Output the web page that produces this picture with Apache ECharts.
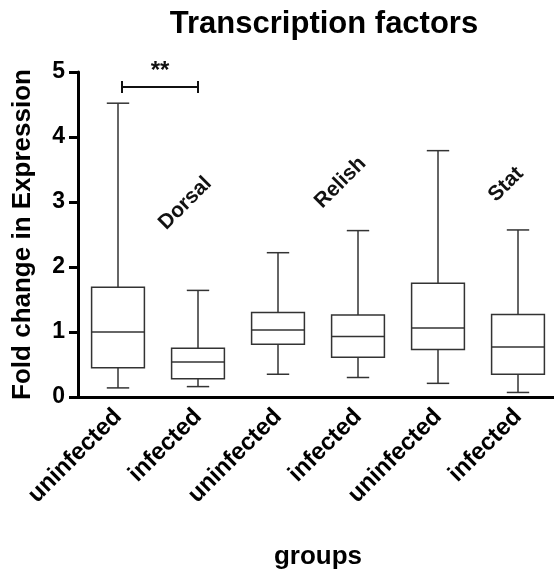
<!DOCTYPE html>
<html>
<head>
<meta charset="utf-8">
<script src="https://cdn.jsdelivr.net/npm/echarts@6/dist/echarts.min.js"></script>
<style>
  html, body { margin: 0; padding: 0; background: #fff; }
  #chart { width: 554px; height: 571px; }
</style>
</head>
<body>
<div id="chart"></div>
<script>
// groups on the x axis
const categories = ['uninfected', 'infected', 'uninfected', 'infected', 'uninfected', 'infected']
// whisker low, Q1, median, Q3, whisker high
const whiskerLow = [0.14, 0.16, 0.35, 0.30, 0.21, 0.07]
const q1 = [0.45, 0.28, 0.81, 0.61, 0.73, 0.35]
const median = [1.00, 0.54, 1.03, 0.93, 1.06, 0.77]
const q3 = [1.69, 0.75, 1.30, 1.26, 1.75, 1.27]
const whiskerHigh = [4.52, 1.64, 2.22, 2.56, 3.79, 2.57]

// gene labels, placed in axis units (x = category index)
const geneNames = ['Dorsal', 'Relish', 'Stat']
const geneX = [0.84, 2.78, 4.85]
const geneY = [2.98, 3.30, 3.27]

// significance bracket between group 0 and 1
const sigFrom = 0.05
const sigTo = 1.0
const sigValue = 4.77
const sigText = '**'

const FONT = '"Liberation Sans", Arial, sans-serif'
const boxData = categories.map((c, i) => [i, whiskerLow[i], q1[i], median[i], q3[i], whiskerHigh[i]])

const chart = echarts.init(document.getElementById('chart'))

function renderBox(params, api) {
  const i = api.value(0)
  const lo = api.coord([i, api.value(1)])
  const a = api.coord([i, api.value(2)])
  const m = api.coord([i, api.value(3)])
  const b = api.coord([i, api.value(4)])
  const hi = api.coord([i, api.value(5)])
  const cx = lo[0]
  const band = api.size([1, 0])[0]
  const hb = band * 0.33
  const hc = band * 0.14
  const st = { stroke: '#333', lineWidth: 1.5, fill: 'none' }
  return {
    type: 'group',
    children: [
      { type: 'rect', shape: { x: cx - hb, y: b[1], width: hb * 2, height: a[1] - b[1] }, style: { stroke: '#333', lineWidth: 1.5, fill: '#fff' } },
      { type: 'line', shape: { x1: cx - hb, y1: m[1], x2: cx + hb, y2: m[1] }, style: st },
      { type: 'line', shape: { x1: cx, y1: b[1], x2: cx, y2: hi[1] }, style: st },
      { type: 'line', shape: { x1: cx, y1: a[1], x2: cx, y2: lo[1] }, style: st },
      { type: 'line', shape: { x1: cx - hc, y1: hi[1], x2: cx + hc, y2: hi[1] }, style: st },
      { type: 'line', shape: { x1: cx - hc, y1: lo[1], x2: cx + hc, y2: lo[1] }, style: st }
    ]
  }
}

function renderGene(params, api) {
  const p = api.coord([api.value(0), api.value(1)])
  return {
    type: 'text',
    x: p[0],
    y: p[1],
    rotation: Math.PI / 4,
    style: {
      text: geneNames[params.dataIndex],
      font: 'bold 21px ' + FONT,
      fill: '#111',
      align: 'center',
      verticalAlign: 'middle'
    }
  }
}

function renderSig(params, api) {
  const l = api.coord([api.value(0), api.value(2)])
  const r = api.coord([api.value(1), api.value(2)])
  const st = { stroke: '#111', lineWidth: 2 }
  return {
    type: 'group',
    children: [
      { type: 'line', shape: { x1: l[0], y1: l[1], x2: r[0], y2: r[1] }, style: st },
      { type: 'line', shape: { x1: l[0], y1: l[1] - 6, x2: l[0], y2: l[1] + 6 }, style: st },
      { type: 'line', shape: { x1: r[0], y1: r[1] - 6, x2: r[0], y2: r[1] + 6 }, style: st },
      {
        type: 'text', x: (l[0] + r[0]) / 2, y: l[1] - 16,
        style: { text: sigText, font: 'bold 24px ' + FONT, fill: '#111', align: 'center', verticalAlign: 'middle' }
      }
    ]
  }
}

chart.setOption({
  animation: false,
  backgroundColor: '#fff',
  title: {
    text: 'Transcription factors',
    left: 319,
    top: 4,
    textAlign: 'center',
    textStyle: { fontFamily: FONT, fontWeight: 'bold', fontSize: 31, color: '#000' }
  },
  grid: { left: 78, top: 72, width: 480, bottom: 174, outerBoundsMode: 'none' },
  xAxis: [
    {
      type: 'category',
      data: categories,
      name: 'groups',
      nameLocation: 'middle',
      nameGap: 147,
      nameTextStyle: { fontFamily: FONT, fontWeight: 'bold', fontSize: 26, color: '#000' },
      axisLine: { lineStyle: { color: '#000', width: 3 } },
      axisTick: { alignWithLabel: true, length: 9, lineStyle: { color: '#000', width: 3 } },
      axisLabel: { rotate: 45, margin: 16, fontFamily: FONT, fontWeight: 'bold', fontSize: 24, color: '#000' }
    },
    { type: 'value', min: -0.5, max: 5.5, show: false }
  ],
  yAxis: {
    type: 'value',
    min: 0,
    max: 5,
    interval: 1,
    name: 'Fold change in Expression',
    nameLocation: 'middle',
    nameGap: 42,
    nameTextStyle: { fontFamily: FONT, fontWeight: 'bold', fontSize: 26, color: '#000' },
    splitLine: { show: false },
    axisLine: { show: true, onZero: false, lineStyle: { color: '#000', width: 3 } },
    axisTick: { show: true, length: 9, lineStyle: { color: '#000', width: 3 } },
    axisLabel: { margin: 13, fontFamily: FONT, fontWeight: 'bold', fontSize: 23, color: '#000' }
  },
  series: [
    {
      type: 'custom',
      xAxisIndex: 0,
      renderItem: renderBox,
      encode: { x: 0, y: [1, 2, 3, 4, 5] },
      data: boxData
    },
    {
      type: 'custom',
      xAxisIndex: 1,
      renderItem: renderGene,
      encode: { x: 0, y: 1 },
      data: geneX.map((x, i) => [x, geneY[i]])
    },
    {
      type: 'custom',
      xAxisIndex: 1,
      renderItem: renderSig,
      encode: { x: [0, 1], y: 2 },
      data: [[sigFrom, sigTo, sigValue]]
    }
  ]
})
</script>
</body>
</html>
